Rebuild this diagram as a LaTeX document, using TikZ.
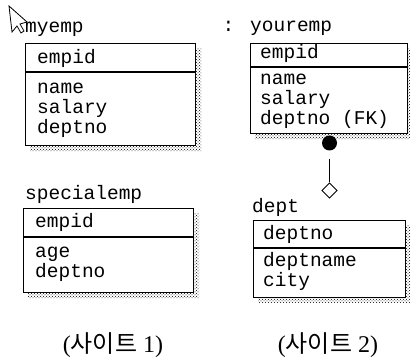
\documentclass[tikz,border=0pt]{standalone}
\usepackage{fontspec}
\setmainfont{Liberation Serif}
\newfontfamily\mono{Liberation Mono}
\newfontfamily\kr{Noto Sans CJK KR}
\usetikzlibrary{shapes.geometric,patterns}
\begin{document}
\begin{tikzpicture}[x=1pt,y=-1pt,
  tbl/.style={draw=black, line width=1.1pt, fill=white, inner sep=0, anchor=north west},
  shadowbox/.style={pattern=crosshatch dots, pattern color=black, draw=none},
  div/.style={line width=1.1pt},
  txt/.style={anchor=base west, inner sep=0, font=\mono\fontsize{19.5}{20}\selectfont},
  lab/.style={font=\fontsize{24}{26}\selectfont, inner sep=0},
  cursor/.style={draw=black, fill=white, line width=0.8pt, line join=miter}]
\useasboundingbox (0,0) rectangle (410,358);

% boxes
\node[tbl, minimum width=170pt, minimum height=102pt] (myemp) at (25,43) {};
\node[tbl, minimum width=157pt, minimum height=90pt] (youremp) at (250,43) {};
\node[tbl, minimum width=170pt, minimum height=84pt] (special) at (23,208) {};
\node[tbl, minimum width=152pt, minimum height=77pt] (dept) at (253,220) {};

% shadows (L-shaped strips right of and below each box)
\foreach \b in {myemp,youremp,special,dept}{
  \path[shadowbox] ([shift={(0,5)}]\b.north east) -- ([shift={(5,5)}]\b.north east)
     -- ([shift={(5,5)}]\b.south east) -- ([shift={(5,5)}]\b.south west)
     -- ([shift={(5,0)}]\b.south west) -- (\b.south east) -- cycle;
}

% myemp
\draw[div] (myemp.west |- 0,72) -- (myemp.east |- 0,72);
\node[txt] (myt) at (25,33) {myemp};
\node[txt] (my1) at (37,64) {empid};
\node[txt] (my2) at (37,94) {name};
\node[txt] (my3) at (37,114) {salary};
\node[txt] (my4) at (37,134) {deptno};

% cursor
\draw[cursor] (9,6) -- (27,22) -- (20,24) -- (24,31) -- (21,33) -- (17,26) -- (12,32) -- cycle;

% youremp
\node[txt] (colon) at (222.5,32) {:};
\draw[div] (youremp.west |- 0,67) -- (youremp.east |- 0,67);
\node[txt] (yot) at (250,32) {youremp};
\node[txt] (yo1) at (260,59) {empid};
\node[txt] (yo2) at (260,85) {name};
\node[txt] (yo3) at (260,105) {salary};
\node[txt] (yo4) at (260,125) {deptno (FK)};

% specialemp
\draw[div] (special.west |- 0,237) -- (special.east |- 0,237);
\node[txt] (spt) at (25,200) {specialemp};
\node[txt] (sp1) at (35,228) {empid};
\node[txt] (sp2) at (35,258) {age};
\node[txt] (sp3) at (35,278) {deptno};

% dept
\draw[div] (dept.west |- 0,248) -- (dept.east |- 0,248);
\node[txt] (det) at (252,213) {dept};
\node[txt] (de1) at (263,240) {deptno};
\node[txt] (de2) at (263,267) {deptname};
\node[txt] (de3) at (263,287) {city};

% relationship
\node[circle, fill=black, inner sep=0, minimum size=15pt] (dot) at (329.5,143) {};
\node[diamond, draw=black, fill=white, line width=0.9pt, inner sep=0, minimum size=15.5pt] (dia) at (329.5,190.5) {};
\draw[line width=1.1pt, shorten <=8pt] (dot.south) -- (dia.north);

% labels
\node[lab] (site1) at (113,345) {({\kr 사이트} 1)};
\node[lab] (site2) at (328,345) {({\kr 사이트} 2)};
\end{tikzpicture}
\end{document}
